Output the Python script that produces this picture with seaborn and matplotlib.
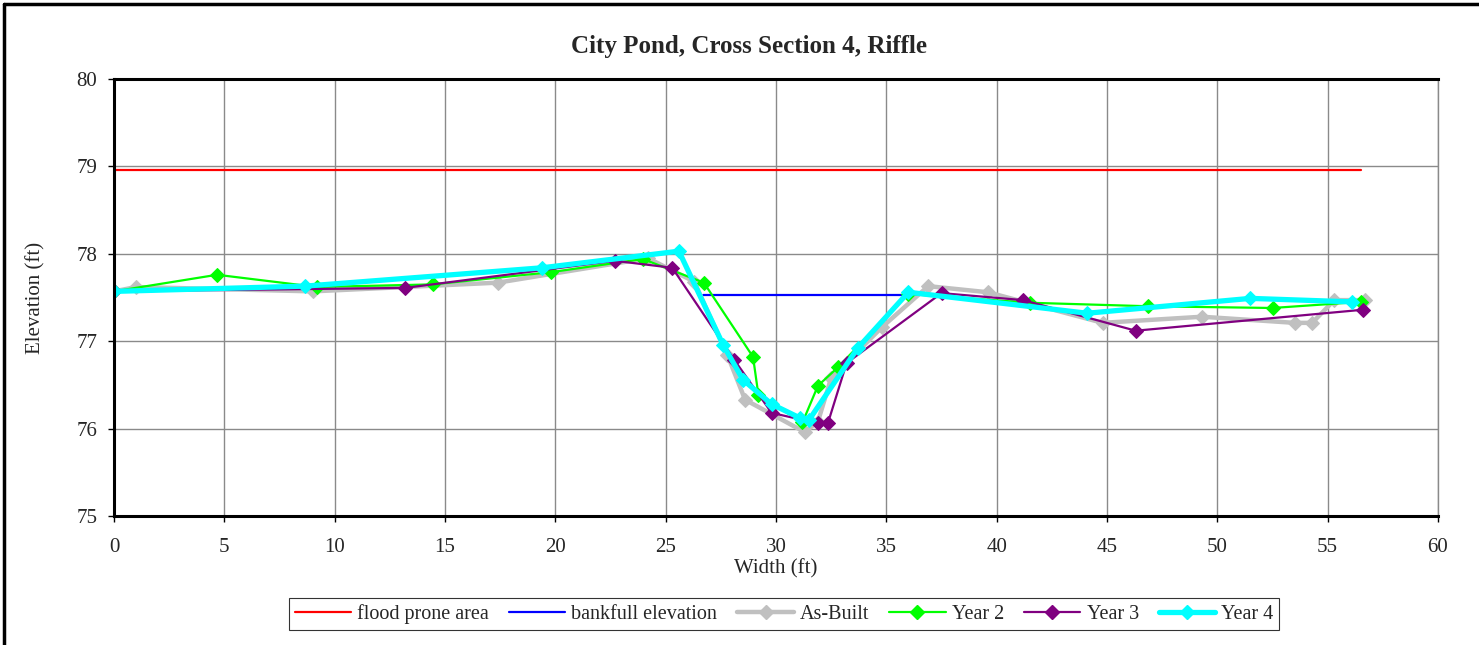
import matplotlib
matplotlib.use("Agg")
import matplotlib.pyplot as plt
from matplotlib.lines import Line2D
import seaborn as sns
import pandas as pd

# Cross-section survey data: station (ft) and elevation (ft)
flood_x = [0.0, 56.5]
flood_y = [78.96, 78.96]

bankfull_x = [26.7, 36.0]
bankfull_y = [77.53, 77.53]

asbuilt_x = [0.0, 1.0, 9.0, 17.4, 24.2, 26.3, 27.8, 28.6, 31.3, 31.9, 32.5, 34.8,
             36.9, 39.6, 44.8, 49.3, 53.5, 54.3, 55.3, 56.7]
asbuilt_y = [77.57, 77.62, 77.57, 77.67, 77.95, 77.68, 76.84, 76.33, 75.96, 76.08, 76.58, 77.16,
             77.63, 77.56, 77.21, 77.28, 77.21, 77.21, 77.47, 77.47]

year2_x = [0.0, 4.67, 9.2, 14.45, 19.8, 23.97, 26.73, 28.96, 29.2, 31.2, 31.9, 32.8,
           36.0, 41.5, 46.85, 52.5, 56.5]
year2_y = [77.57, 77.76, 77.62, 77.65, 77.79, 77.94, 77.67, 76.82, 76.39, 76.07, 76.49, 76.70,
           77.54, 77.44, 77.40, 77.38, 77.45]

year3_x = [0.0, 13.2, 22.7, 25.3, 28.1, 29.8, 31.9, 32.35, 33.2, 37.5, 41.2, 46.3, 56.6]
year3_y = [77.57, 77.61, 77.92, 77.84, 76.79, 76.18, 76.06, 76.06, 76.75, 77.55, 77.47, 77.12, 77.36]

year4_x = [0.0, 8.65, 19.4, 25.6, 27.6, 28.5, 29.8, 31.1, 31.5, 33.7, 36.0, 44.1, 51.5, 56.1]
year4_y = [77.57, 77.63, 77.84, 78.03, 76.96, 76.56, 76.28, 76.12, 76.10, 76.92, 77.56, 77.32, 77.49, 77.45]

sns.set_theme(style="white")
plt.rcParams["font.family"] = ["Liberation Serif", "DejaVu Serif"]

fig = plt.figure(figsize=(14.79, 6.45), dpi=100)
ax = fig.add_axes([114 / 1479, 1 - 516 / 645, (1438 - 114) / 1479, (516 - 79) / 645])

series = [
    ("flood prone area", flood_x, flood_y, "#ff0000", 1.6, None, 0),
    ("bankfull elevation", bankfull_x, bankfull_y, "#0000ff", 1.6, None, 0),
    ("As-Built", asbuilt_x, asbuilt_y, "#c0c0c0", 3.2, "D", 7),
    ("Year 2", year2_x, year2_y, "#00ff00", 1.6, "D", 7),
    ("Year 3", year3_x, year3_y, "#800080", 1.6, "D", 7),
    ("Year 4", year4_x, year4_y, "#00ffff", 3.8, "D", 7),
]

handles = []
for name, xs, ys, color, lw, mk, ms in series:
    df = pd.DataFrame({"Width": xs, "Elevation": ys})
    sns.lineplot(data=df, x="Width", y="Elevation", sort=False, ax=ax,
                 color=color, linewidth=lw, marker=mk, markersize=ms,
                 markeredgecolor=color, estimator=None)
    handles.append(Line2D([0], [0], color=color, linewidth=lw, marker=mk,
                          markersize=ms, markeredgecolor=color, label=name))

ax.set_xlim(0, 60)
ax.set_ylim(75, 80)
ax.set_xticks(range(0, 61, 5))
ax.set_yticks(range(75, 81, 1))
ax.grid(True, color="#8a8a8a", linewidth=1.0)
ax.set_axisbelow(True)
ax.tick_params(axis="both", which="major", direction="out", length=4, width=1,
               color="black", labelsize=15, left=True, bottom=True)
ax.tick_params(axis="x", pad=12)
ax.tick_params(axis="y", pad=8)

for side in ["left", "top", "bottom"]:
    ax.spines[side].set_color("black")
    ax.spines[side].set_linewidth(2.2)
ax.spines["right"].set_color("#8a8a8a")
ax.spines["right"].set_linewidth(1.0)

ax.set_xlabel("Width (ft)", fontsize=15, labelpad=1)
ax.set_ylabel("Elevation (ft)", fontsize=15, labelpad=22)
# Title is centred on the whole chart rather than the plot area
ax.set_title("City Pond, Cross Section 4, Riffle", fontsize=18, fontweight="bold",
             pad=19, x=(749 - 114) / 1324)

leg = fig.legend(handles=handles, loc="center", bbox_to_anchor=(784 / 1479, 1 - 614 / 645),
                 ncol=6, fontsize=14.5, frameon=True, fancybox=False, edgecolor="black",
                 handlelength=2.8, handletextpad=0.3, columnspacing=1.0, borderpad=0.3)
leg.get_frame().set_linewidth(0.8)

# Outer chart frame along the top and left edges
fig.add_artist(Line2D([4 / 1479, 4 / 1479], [0, 1 - 4 / 645], transform=fig.transFigure,
                      color="black", linewidth=2.5))
fig.add_artist(Line2D([4 / 1479, 1], [1 - 4 / 645, 1 - 4 / 645], transform=fig.transFigure,
                      color="black", linewidth=2.5))

fig.savefig("out.png", dpi=100, facecolor="white")
